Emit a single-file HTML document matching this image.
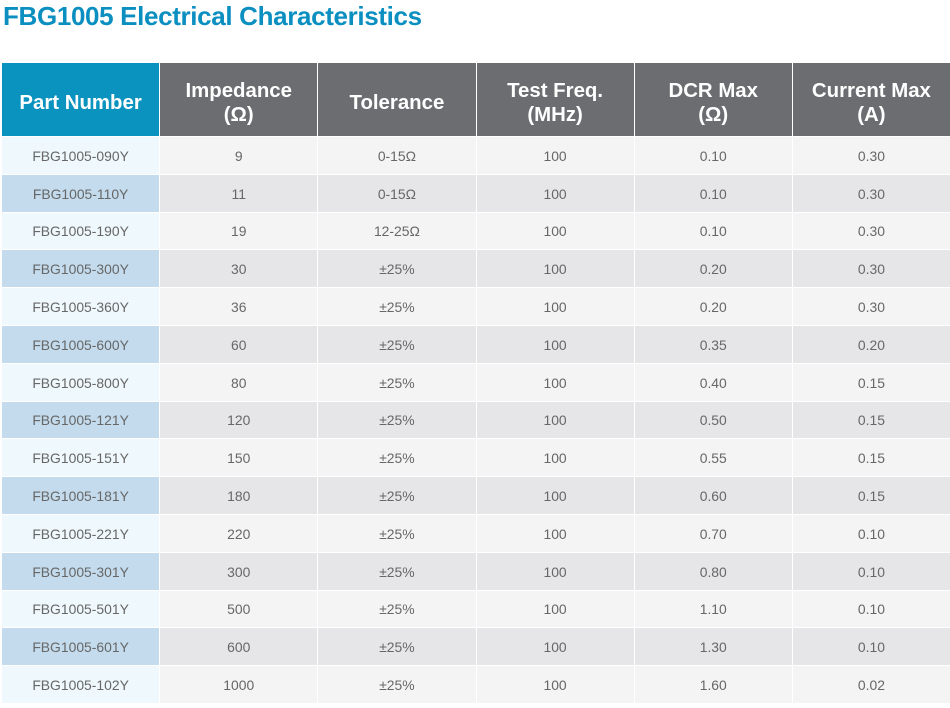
<!DOCTYPE html>
<html>
<head>
<meta charset="utf-8">
<style>
  html, body { margin:0; padding:0; background:#ffffff; }
  body { width:950px; height:708px; position:relative; overflow:hidden; font-family:"Liberation Sans", Arial, sans-serif; }
  .title { position:absolute; left:3px; top:0px; font-size:26px; font-weight:bold; color:#0a8fc0; letter-spacing:-0.35px; line-height:32px; white-space:nowrap; }
  .grid { position:absolute; left:2px; top:63px; width:948px; display:grid;
    grid-template-columns: repeat(6, 1fr); grid-template-rows: 73px repeat(15, 36.8px);
    column-gap:1px; row-gap:1px; background:#ffffff; }
  .grid > div { display:flex; align-items:center; justify-content:center; text-align:center; box-sizing:border-box; }
  .h { background:#6c6d71; color:#ffffff; font-weight:bold; font-size:20.4px; line-height:24.5px; padding-top:7px; }
  .h.pn { background:#0a93bf; }
  .c { font-size:13.9px; color:#676767; background:#f4f4f4; padding-top:1px; }
  .c.e { background:#e6e6e8; }
  .c.p { background:#eff8fc; }
  .c.p.e { background:#c3dbec; }
</style>
</head>
<body>
<div class="title">FBG1005 Electrical Characteristics</div>
<div class="grid">
  <div class="h pn">Part Number</div>
  <div class="h">Impedance<br>(Ω)</div>
  <div class="h">Tolerance</div>
  <div class="h">Test Freq.<br>(MHz)</div>
  <div class="h">DCR Max<br>(Ω)</div>
  <div class="h">Current Max<br>(A)</div>

  <div class="c p">FBG1005-090Y</div><div class="c">9</div><div class="c">0-15Ω</div><div class="c">100</div><div class="c">0.10</div><div class="c">0.30</div>
  <div class="c p e">FBG1005-110Y</div><div class="c e">11</div><div class="c e">0-15Ω</div><div class="c e">100</div><div class="c e">0.10</div><div class="c e">0.30</div>
  <div class="c p">FBG1005-190Y</div><div class="c">19</div><div class="c">12-25Ω</div><div class="c">100</div><div class="c">0.10</div><div class="c">0.30</div>
  <div class="c p e">FBG1005-300Y</div><div class="c e">30</div><div class="c e">±25%</div><div class="c e">100</div><div class="c e">0.20</div><div class="c e">0.30</div>
  <div class="c p">FBG1005-360Y</div><div class="c">36</div><div class="c">±25%</div><div class="c">100</div><div class="c">0.20</div><div class="c">0.30</div>
  <div class="c p e">FBG1005-600Y</div><div class="c e">60</div><div class="c e">±25%</div><div class="c e">100</div><div class="c e">0.35</div><div class="c e">0.20</div>
  <div class="c p">FBG1005-800Y</div><div class="c">80</div><div class="c">±25%</div><div class="c">100</div><div class="c">0.40</div><div class="c">0.15</div>
  <div class="c p e">FBG1005-121Y</div><div class="c e">120</div><div class="c e">±25%</div><div class="c e">100</div><div class="c e">0.50</div><div class="c e">0.15</div>
  <div class="c p">FBG1005-151Y</div><div class="c">150</div><div class="c">±25%</div><div class="c">100</div><div class="c">0.55</div><div class="c">0.15</div>
  <div class="c p e">FBG1005-181Y</div><div class="c e">180</div><div class="c e">±25%</div><div class="c e">100</div><div class="c e">0.60</div><div class="c e">0.15</div>
  <div class="c p">FBG1005-221Y</div><div class="c">220</div><div class="c">±25%</div><div class="c">100</div><div class="c">0.70</div><div class="c">0.10</div>
  <div class="c p e">FBG1005-301Y</div><div class="c e">300</div><div class="c e">±25%</div><div class="c e">100</div><div class="c e">0.80</div><div class="c e">0.10</div>
  <div class="c p">FBG1005-501Y</div><div class="c">500</div><div class="c">±25%</div><div class="c">100</div><div class="c">1.10</div><div class="c">0.10</div>
  <div class="c p e">FBG1005-601Y</div><div class="c e">600</div><div class="c e">±25%</div><div class="c e">100</div><div class="c e">1.30</div><div class="c e">0.10</div>
  <div class="c p">FBG1005-102Y</div><div class="c">1000</div><div class="c">±25%</div><div class="c">100</div><div class="c">1.60</div><div class="c">0.02</div>
</div>
</body>
</html>
